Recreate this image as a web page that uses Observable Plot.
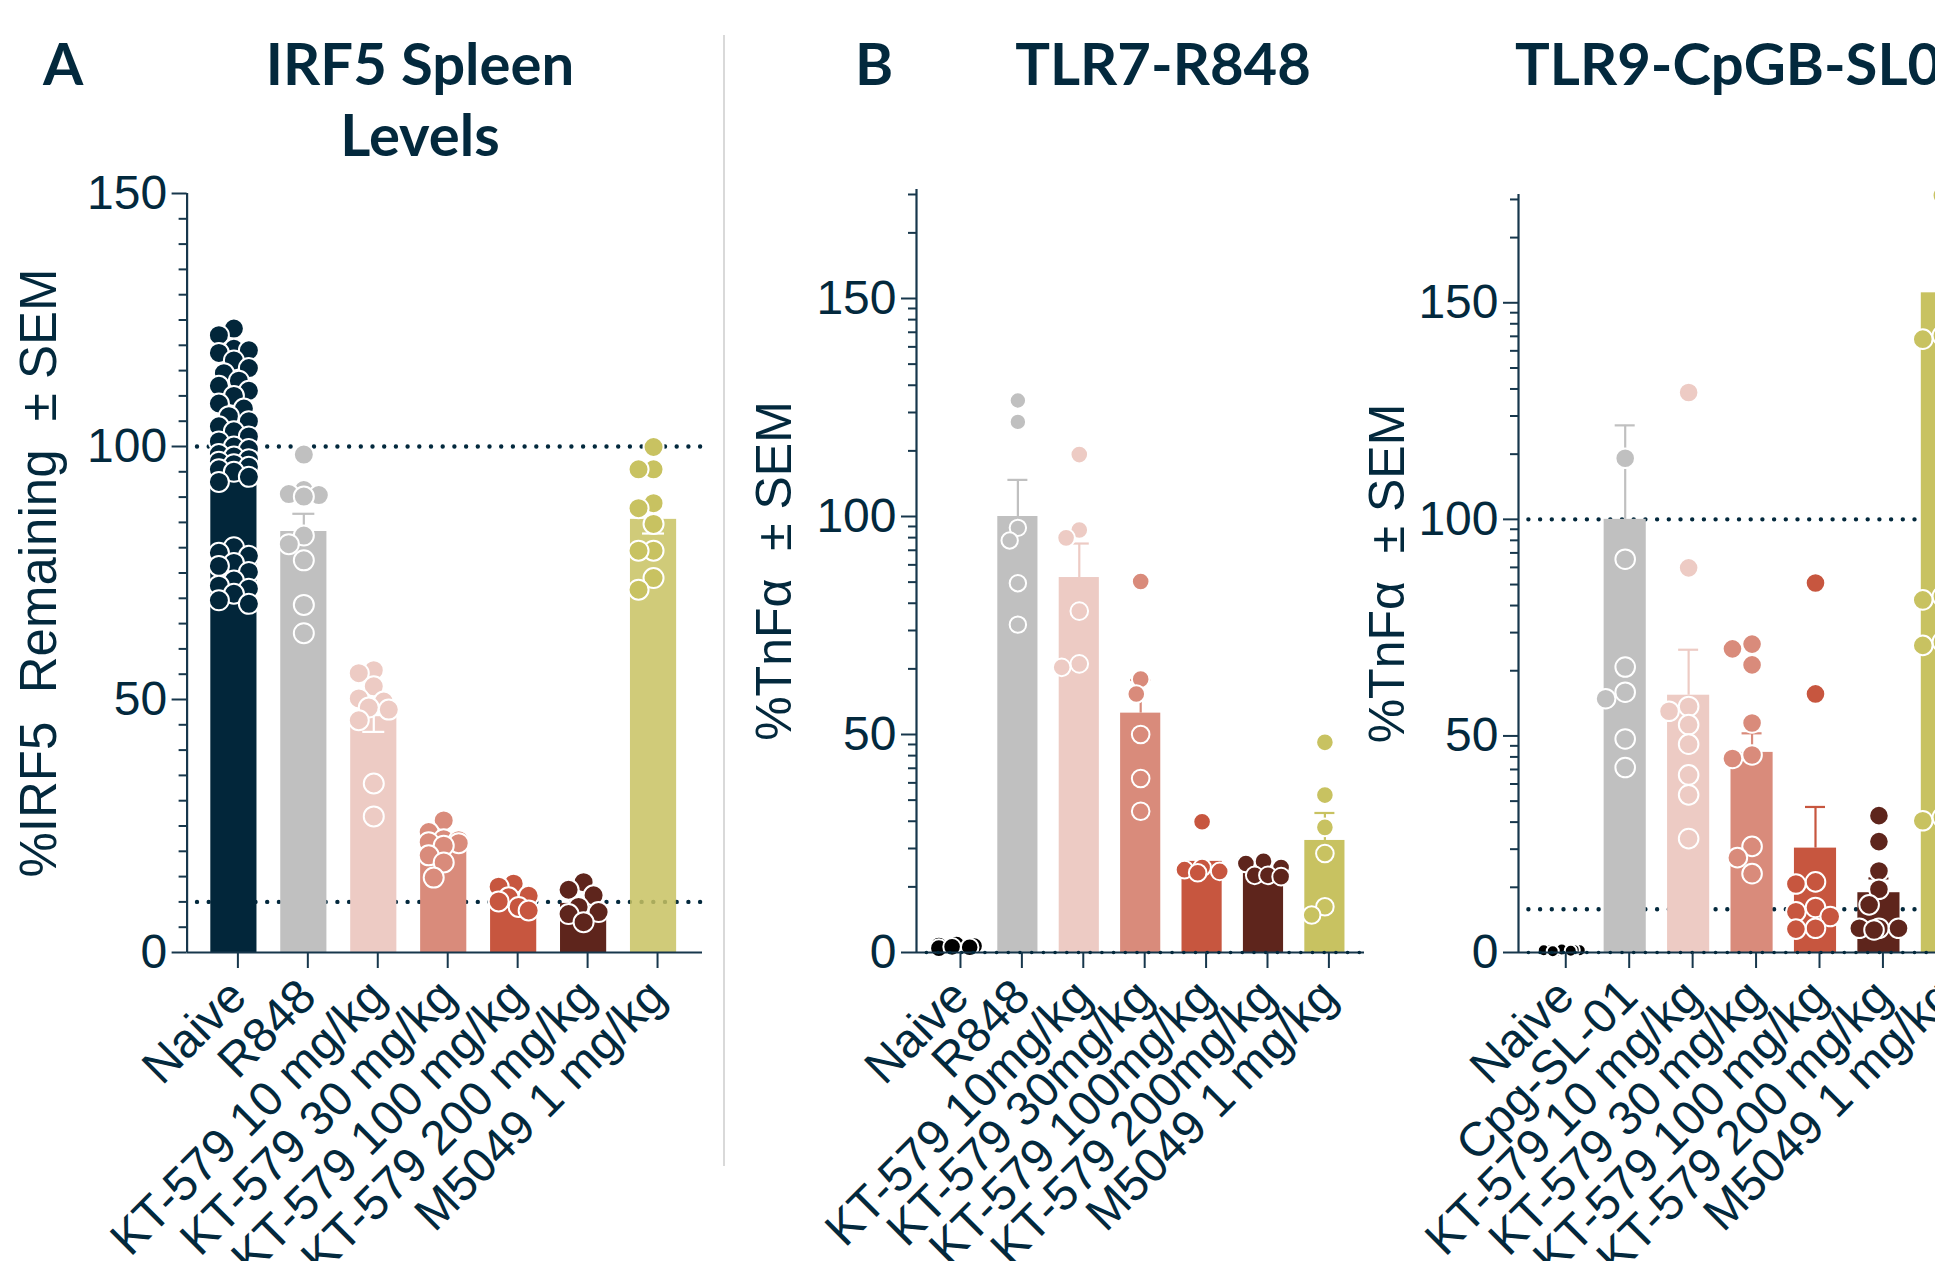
<!DOCTYPE html>
<html>
<head>
<meta charset="utf-8">
<script src="https://cdn.jsdelivr.net/npm/d3@7"></script>
<script src="https://cdn.jsdelivr.net/npm/@observablehq/plot@0.6"></script>
<style>
  html, body { margin: 0; padding: 0; background: #fff; overflow: hidden; }
  #page { position: relative; width: 1935px; height: 1261px; overflow: hidden; background: #fff; }
  .title { position: absolute; font-family: Lato, "Open Sans", sans-serif; font-weight: 700; font-size: 58px;
           line-height: 71px; color: #03293d; white-space: nowrap; }
  .panel { position: absolute; top: 0; }
  #divider { position: absolute; left: 723px; top: 35px; width: 2px; height: 1131px; background: #d9d9d9; }
</style>
</head>
<body>
<div id="page">
  <div class="title" style="left:43px;top:27px;">A</div>
  <div class="title" style="left:120px;top:27px;width:600px;text-align:center;">IRF5 Spleen<br>Levels</div>
  <div id="divider"></div>
  <div class="title" style="left:855px;top:27px;">B</div>
  <div class="title" style="left:863px;top:27px;width:600px;text-align:center;">TLR7-R848</div>
  <div class="title" style="left:1515px;top:27px;">TLR9-CpGB-SL01</div>
  <div id="panelA" class="panel" style="left:0px;"></div>
  <div id="panelB" class="panel" style="left:730px;"></div>
  <div id="panelC" class="panel" style="left:1380px;"></div>
</div>
<script>
// ---------------- DATA ----------------
// Panel A: IRF5 Spleen Levels (%IRF5 remaining)
const catsA = ["Naive", "R848", "KT-579 10 mg/kg", "KT-579 30 mg/kg", "KT-579 100 mg/kg", "KT-579 200 mg/kg", "M5049 1 mg/kg"];
const meanA = [97.8, 83.2, 46.6, 21.8, 10.7, 9.7, 85.6];
const semA  = [2.0, 3.5, 3.0, 1.0, 0.7, 1.0, 2.8];
const pointsA = [
  [123.3, 122.0, 119.3, 119.0, 118.5, 117.0, 115.5, 114.5, 113.0, 112.0, 111.0, 110.0, 108.5, 107.5, 106.0, 105.0,
   104.0, 103.0, 102.0, 101.0, 100.0, 99.5, 98.5, 98.0, 97.5, 97.0, 96.5, 96.0, 95.5, 95.0, 94.0, 93.0,
   80.1, 79.0, 78.4, 77.0, 76.4, 75.2, 73.5, 72.5, 71.9, 70.9, 69.6, 68.9],
  [98.4, 91.4, 90.6, 90.4, 90.1, 82.4, 80.7, 77.5, 68.7, 63.1],
  [55.8, 55.2, 52.6, 50.2, 49.6, 48.4, 48.0, 45.9, 33.4, 26.9],
  [26.1, 23.8, 22.4, 22.2, 21.8, 21.6, 21.1, 19.2, 17.8, 14.8],
  [13.6, 13.0, 11.2, 10.9, 10.1, 9.0, 8.3],
  [13.9, 12.4, 11.3, 9.0, 8.0, 7.6, 6.0],
  [99.9, 95.5, 95.5, 88.8, 87.8, 84.7, 79.4, 79.4, 74.0, 71.7]
];

// Panel B: TLR7-R848 (%TnFα)
const catsB = ["Naive", "R848", "KT-579 10mg/kg", "KT-579 30mg/kg", "KT-579 100mg/kg", "KT-579 200mg/kg", "M5049 1 mg/kg"];
const meanB = [1.3, 100.0, 86.0, 54.9, 20.9, 18.9, 25.7];
const semB  = [0, 8.4, 7.8, 7.6, 2.0, 0.8, 6.3];
const pointsB = [
  [1.8, 1.5, 1.2, 1.6, 1.0, 1.3],
  [126.6, 121.7, 97.4, 94.5, 84.7, 75.2],
  [114.2, 96.9, 95.1, 78.3, 66.2, 65.4],
  [85.1, 62.7, 59.3, 50.0, 39.9, 32.4],
  [30.0, 19.5, 19.0, 18.6, 18.3],
  [20.9, 20.4, 19.5, 17.7, 17.7, 17.4],
  [48.2, 36.1, 28.7, 22.7, 10.5, 8.6]
];

// Panel C: TLR9-CpGB-SL01 (%TnFα)
const catsC = ["Naive", "Cpg-SL-01", "KT-579 10 mg/kg", "KT-579 30 mg/kg", "KT-579 100 mg/kg", "KT-579 200 mg/kg", "M5049 1 mg/kg"];
const meanC = [0.5, 100.0, 59.4, 46.2, 24.1, 13.8, 152.3];
const semC  = [0, 21.7, 10.5, 4.4, 9.5, 3.3, 0];
const pointsC = [
  [0.6, 0.5, 0.4, 0.7, 0.3, 0.5, 0.6, 0.4],
  [114.1, 90.8, 65.9, 60.1, 58.6, 49.3, 42.7],
  [129.3, 88.8, 56.8, 55.7, 52.6, 48.1, 41.0, 36.4, 26.3],
  [71.2, 70.1, 66.4, 53.0, 45.6, 44.8, 24.5, 21.9, 18.2],
  [85.3, 59.7, 16.3, 15.8, 10.4, 9.4, 8.3, 5.6, 5.4],
  [31.6, 25.6, 18.8, 14.6, 11.0, 5.6, 5.6, 5.6, 5.2],
  [174.8, 142.4, 141.6, 82.2, 81.4, 71.7, 70.9, 31.2, 30.4]
];

const yTicksMajor = [0, 50, 100, 150];
const yLabelA = "%IRF5  Remaining  ± SEM";
const yLabelBC = "%TnFα  ± SEM";

// ---------------- STYLE ----------------
const ink = "#03293d";
const axisInk = "#17374c";
const barPalette = ["#02263a", "#c0c0c0", "#edcbc4", "#d98b7b", "#c7563f", "#5e251c", "#c8c261"];
const dotPaletteA = barPalette;
const dotPaletteBC = ["#000000", "#c0c0c0", "#edcbc4", "#d98b7b", "#c7563f", "#5e251c", "#c8c261"];

function swarm(values, r, pyu, maxOff, minDist) {
  const off = new Array(values.length).fill(0);
  const order = values.map((v, i) => i).sort((a, b) => values[b] - values[a]);
  const placed = [];
  const step = r * 0.5;
  const cands = [0];
  for (let k = 1; k * step <= maxOff; k++) cands.push(-k * step, k * step);
  for (const i of order) {
    const yi = values[i] * pyu;
    let best = 0, bestScore = Infinity;
    for (const c of cands) {
      let overlap = 0;
      for (const p of placed) {
        const d = Math.hypot(c - p.x, yi - p.y);
        if (d < minDist) overlap += minDist - d;
      }
      if (overlap === 0) { best = c; bestScore = 0; break; }
      if (overlap < bestScore - 1e-9) { bestScore = overlap; best = c; }
    }
    off[i] = best;
    placed.push({x: best, y: yi});
  }
  return off;
}

function panel(cfg) {
  const {cats, means, sems, points, dotPalette, errDir, refLines, zeroDotted, yDomain, minor, yLabel, yLabelSize,
         width, height, marginLeft, marginRight, marginTop, marginBottom, xDomain, halfW, r, capHalfPx,
         barOpacity, labelDx, maxOffPx, minDistF} = cfg;
  const pxX = (width - marginLeft - marginRight) / (xDomain[1] - xDomain[0]);
  const pxY = (height - marginTop - marginBottom) / (yDomain[1] - yDomain[0]);
  const bars = cats.map((c, i) => ({i, mean: means[i], color: barPalette[i], op: barOpacity[i]}));
  const errs = [];
  cats.forEach((c, i) => {
    const dir = errDir[i];
    if (!dir || !sems[i]) return;
    errs.push({i, mean: means[i], end: dir === "up" ? means[i] + sems[i] : means[i] - sems[i],
               color: dir === "up" ? barPalette[i] : "#ffffff"});
  });
  const dots = [];
  points.forEach((vals, i) => {
    const offs = swarm(vals, r[i], pxY, maxOffPx, r[i] * 2 * minDistF);
    vals.forEach((v, k) => dots.push({x: i + offs[k] / pxX, v, fill: dotPalette[i], r: r[i]}));
  });
  const capU = capHalfPx / pxX;
  const dash = {stroke: ink, strokeWidth: 4.4, strokeDasharray: "0 11.7", strokeLinecap: "round", strokeDashoffset: -10.4};
  const marks = [
    Plot.ruleY(refLines, {y: d => d, x1: xDomain[0], x2: xDomain[1], ...dash}),
    Plot.rectY(bars, {x1: d => d.i - halfW, x2: d => d.i + halfW, y1: 0, y2: "mean", fill: "color", fillOpacity: "op"}),
    Plot.ruleX(errs, {x: "i", y1: "mean", y2: "end", stroke: "color", strokeWidth: 2.2}),
    Plot.ruleY(errs, {y: "end", x1: d => d.i - capU, x2: d => d.i + capU, stroke: "color", strokeWidth: 2.2}),
    Plot.dot(dots, {x: "x", y: "v", r: "r", fill: "fill", stroke: "#ffffff", strokeWidth: 2}),
    Plot.ruleX([xDomain[0]], {y1: yDomain[0], y2: yDomain[1], stroke: axisInk, strokeWidth: 2.2}),
    Plot.ruleY([0], {x1: xDomain[0], x2: xDomain[1], stroke: axisInk, strokeWidth: 2.2}),
    zeroDotted ? Plot.ruleY([0], {y: d => d, x1: xDomain[0], x2: xDomain[1], ...dash, strokeWidth: 3.6}) : null,
    Plot.axisY({ticks: minor, tickSize: 8, tickFormat: () => "", stroke: axisInk, strokeWidth: 2, label: null}),
    Plot.axisY({ticks: yTicksMajor, tickSize: 15, tickPadding: 5, fontSize: 48, tickFormat: d => String(d),
                stroke: axisInk, strokeWidth: 2, fill: ink, label: null}),
    Plot.axisX({ticks: d3.range(cats.length), tickFormat: i => cats[i], tickSize: 16, tickPadding: 20,
                tickRotate: -45, fontSize: 48, stroke: axisInk, strokeWidth: 2, fill: ink, label: null, dx: 4}),
    Plot.text([yLabel], {frameAnchor: "left", dx: labelDx, rotate: -90, fontSize: yLabelSize, fill: ink,
                         textAnchor: "middle", lineAnchor: "middle"})
  ].filter(Boolean);
  return Plot.plot({
    width, height, marginLeft, marginRight, marginTop, marginBottom,
    x: {type: "linear", domain: xDomain, axis: null},
    y: {type: "linear", domain: yDomain, axis: null},
    color: {type: "identity"},
    r: {type: "identity"},
    style: {background: "transparent", overflow: "visible", maxWidth: "none",
            fontFamily: "'Liberation Sans', Arial, Helvetica, sans-serif", color: ink},
    marks
  });
}

const minorA = d3.range(5, 150, 5).filter(v => v % 50 !== 0);
const minorBC = [];
for (const b of [0, 50, 100, 150]) for (let k = 2; k <= 9; k++) { const v = b + 50 * Math.log10(k); if (v <= 175) minorBC.push(v); }

document.getElementById("panelA").appendChild(panel({
  cats: catsA, means: meanA, sems: semA, points: pointsA, dotPalette: dotPaletteA,
  errDir: [null, "up", "down", null, null, null, "down"], refLines: [100, 10], zeroDotted: false,
  yDomain: [0, 150], minor: minorA, yLabel: yLabelA, yLabelSize: 51,
  width: 724, height: 1261, marginLeft: 186.6, marginRight: 22, marginTop: 193, marginBottom: 309,
  xDomain: [-0.669, 6.70], halfW: 0.33, r: [10, 10, 10, 10, 10, 10, 10], capHalfPx: 11,
  barOpacity: [1, 1, 1, 1, 1, 1, 0.85], labelDx: -147, maxOffPx: 15, minDistF: 0.8
}));

document.getElementById("panelB").appendChild(panel({
  cats: catsB, means: meanB, sems: semB, points: pointsB, dotPalette: dotPaletteBC,
  errDir: [null, "up", "up", "up", null, null, "up"], refLines: [], zeroDotted: true,
  yDomain: [0, 175], minor: minorBC, yLabel: yLabelBC, yLabelSize: 50,
  width: 650, height: 1261, marginLeft: 186, marginRight: 16, marginTop: 189, marginBottom: 309,
  xDomain: [-0.651, 6.645], halfW: 0.327, r: [8.8, 8.2, 8.8, 8.8, 8.8, 8.8, 8.8], capHalfPx: 10,
  barOpacity: [1, 1, 1, 1, 1, 1, 1], labelDx: -142, maxOffPx: 19, minDistF: 0.85
}));

document.getElementById("panelC").appendChild(panel({
  cats: catsC, means: meanC, sems: semC, points: pointsC, dotPalette: dotPaletteBC,
  errDir: [null, "up", "up", "up", "up", "up", null], refLines: [100, 10], zeroDotted: true,
  yDomain: [0, 175], minor: minorBC, yLabel: yLabelBC, yLabelSize: 50,
  width: 700, height: 1261, marginLeft: 138, marginRight: 95, marginTop: 194, marginBottom: 309,
  xDomain: [-0.682, 6.68], halfW: 0.332, r: [6, 9.8, 9.8, 9.8, 9.8, 9.8, 9.8], capHalfPx: 10,
  barOpacity: [1, 1, 1, 1, 1, 1, 1], labelDx: -131, maxOffPx: 20, minDistF: 0.85
}));
</script>
</body>
</html>
